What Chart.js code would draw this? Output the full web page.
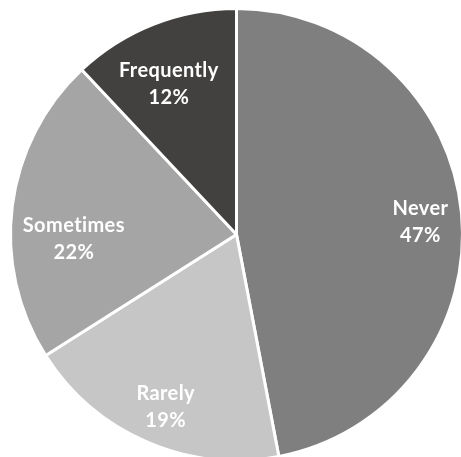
<!DOCTYPE html>
<html>
<head>
<meta charset="utf-8">
<script src="https://cdn.jsdelivr.net/npm/chart.js@4.4.1/dist/chart.umd.min.js"></script>
<style>
  html, body { margin: 0; padding: 0; background: #fff; overflow: hidden; }
  #wrap { position: absolute; left: 0; top: 0; width: 473px; height: 469px; }
</style>
</head>
<body>
<div id="wrap"><canvas id="pie"></canvas></div>
<script>
// answers, in drawing order (clockwise from 12 o'clock)
const labels = ["Never", "Rarely", "Sometimes", "Frequently"];
const percents = [47, 19, 22, 12];
const colors = ["#7f7f7f", "#c6c6c6", "#a5a5a5", "#424140"];

// where each label sits: fraction along the slice's angle, fraction of the radius
const labelAngle = [0.508, 0.485, 0.391, 0.44];
const labelRadius = [0.816, 0.823, 0.72, 0.731];

const sliceLabels = {
  id: "sliceLabels",
  afterDatasetsDraw(chart) {
    const ctx = chart.ctx;
    const arcs = chart.getDatasetMeta(0).data;
    ctx.save();
    ctx.fillStyle = "#ffffff";
    ctx.font = "bold 20px Lato";
    ctx.letterSpacing = "0.4px";
    ctx.textAlign = "center";
    ctx.textBaseline = "middle";
    arcs.forEach(function (arc, i) {
      const a = arc.startAngle + (arc.endAngle - arc.startAngle) * labelAngle[i];
      const r = arc.outerRadius * labelRadius[i];
      const x = arc.x + Math.cos(a) * r;
      const y = arc.y + Math.sin(a) * r;
      ctx.fillText(labels[i], x, y - 13);
      ctx.fillText(percents[i] + "%", x, y + 14);
    });
    ctx.restore();
  }
};

new Chart(document.getElementById("pie"), {
  type: "pie",
  data: {
    labels: labels,
    datasets: [{
      data: percents,
      backgroundColor: colors,
      borderColor: "#ffffff",
      borderWidth: 3
    }]
  },
  options: {
    responsive: true,
    maintainAspectRatio: false,
    animation: false,
    radius: 226,
    layout: { padding: 0 },
    plugins: {
      legend: { display: false },
      tooltip: { enabled: false }
    }
  },
  plugins: [sliceLabels]
});
</script>
</body>
</html>
